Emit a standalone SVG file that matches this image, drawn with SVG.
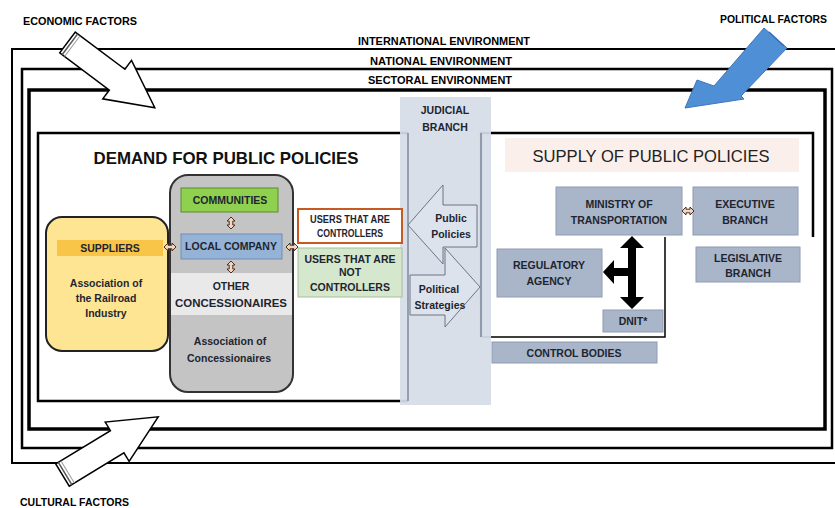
<svg xmlns="http://www.w3.org/2000/svg" width="835" height="508" viewBox="0 0 835 508">
<style>
.frame{fill:none;stroke:#000;}
.lbl{font-family:"Liberation Sans",Arial,sans-serif;font-weight:bold;fill:#000;font-size:10px;}
.bx{font-family:"Liberation Sans",Arial,sans-serif;font-weight:bold;fill:#1e2530;font-size:10.5px;text-anchor:middle;}
.gov{fill:#a9b5c9;stroke:#8f9cb2;stroke-width:1;}
.dbl{fill:#f3d6c2;stroke:#4a3020;stroke-width:1;}
</style>
<defs>
<path id="dblh" class="dbl" d="M-6,0 L-2,-4 L-2,-1.8 L2,-1.8 L2,-4 L6,0 L2,4 L2,1.8 L-2,1.8 L-2,4 Z"/>
</defs>

<!-- environment frames -->
<g id="frames">
<path class="frame" stroke-width="2" d="M840,49 H12 V463 H840"/>
<rect class="frame" stroke-width="2.5" x="22" y="69" width="810" height="379"/>
<rect class="frame" stroke-width="3.5" x="29" y="90" width="796" height="339"/>
<text class="lbl" x="358" y="45" textLength="172" lengthAdjust="spacingAndGlyphs">INTERNATIONAL ENVIRONMENT</text>
<text class="lbl" x="370" y="65" textLength="142" lengthAdjust="spacingAndGlyphs">NATIONAL ENVIRONMENT</text>
<text class="lbl" x="368" y="84" textLength="144" lengthAdjust="spacingAndGlyphs">SECTORAL ENVIRONMENT</text>
</g>

<!-- demand box -->
<g id="demand">
<path fill="#fff" stroke="#000" stroke-width="2.5" d="M408,133 H38 V401 H408"/>
<text x="226" y="164" text-anchor="middle" font-family="Liberation Sans, Arial, sans-serif" font-weight="bold" font-size="17" fill="#111" textLength="265" lengthAdjust="spacingAndGlyphs">DEMAND FOR PUBLIC POLICIES</text>
</g>

<!-- supply box -->
<g id="supply">
<rect x="481" y="133" width="332" height="104" fill="#fff"/>
<rect x="481" y="237" width="184" height="100" fill="#fff"/>
<path fill="none" stroke="#000" stroke-width="2.5" d="M481,337 V133 H813 V237"/>
<path fill="none" stroke="#000" stroke-width="1.5" d="M481,337 H665 V237"/>
<rect x="505" y="138" width="294" height="34" fill="#fbefeb"/>
<text x="651" y="162" text-anchor="middle" font-family="Liberation Sans, Arial, sans-serif" font-size="17" fill="#222" textLength="237" lengthAdjust="spacingAndGlyphs">SUPPLY OF PUBLIC POLICIES</text>
</g>

<!-- judicial branch -->
<g id="judicial">
<rect x="400" y="97" width="91" height="308" fill="#d6dde7" opacity="0.93"/>
<line x1="408" y1="133" x2="408" y2="401" stroke="#7d8a9e" stroke-width="1.5"/>
<line x1="481" y1="133" x2="481" y2="337" stroke="#7d8a9e" stroke-width="1.5"/>
<text class="bx" x="445" y="114">JUDICIAL</text>
<text class="bx" x="445" y="131">BRANCH</text>
</g>

<!-- suppliers -->
<g id="suppliers">
<rect x="46" y="217" width="122" height="134" rx="16" fill="#fee594" stroke="#222" stroke-width="2"/>
<rect x="57" y="240" width="106" height="16" fill="#f8c548"/>
<text class="bx" x="110" y="252">SUPPLIERS</text>
<text class="bx" x="106" y="287">Association of</text>
<text class="bx" x="106" y="302">the Railroad</text>
<text class="bx" x="106" y="317">Industry</text>
</g>

<!-- concessionaires -->
<g id="concessionaires">
<rect x="170" y="175" width="123" height="217" rx="18" fill="#c4c4c4" stroke="#333" stroke-width="2"/>
<rect x="171" y="273" width="121" height="42" fill="#e9e9e9"/>
<text class="bx" x="231" y="290" font-size="11.5">OTHER</text>
<text class="bx" x="231" y="307" font-size="11.5" textLength="112" lengthAdjust="spacingAndGlyphs">CONCESSIONAIRES</text>
<text class="bx" x="230" y="345">Association of</text>
<text class="bx" x="229" y="362">Concessionaires</text>
</g>
<g id="communities">
<rect x="181" y="188" width="97" height="24" fill="#8fd14f" stroke="#5c8a2e" stroke-width="1"/>
<text class="bx" x="230" y="204">COMMUNITIES</text>
</g>
<g id="local-company">
<rect x="181" y="234" width="101" height="25" fill="#95b3d7" stroke="#6f8db3" stroke-width="1"/>
<text class="bx" x="231" y="250">LOCAL COMPANY</text>
</g>

<!-- users -->
<g id="users-controllers">
<rect x="298" y="209" width="104" height="34" fill="#fff" stroke="#c55a22" stroke-width="2"/>
<text class="bx" x="350" y="223" font-size="9" fill="#111" textLength="80" lengthAdjust="spacingAndGlyphs">USERS THAT ARE</text>
<text class="bx" x="350" y="237" font-size="9" fill="#111" textLength="66" lengthAdjust="spacingAndGlyphs">CONTROLLERS</text>
</g>
<g id="users-not-controllers">
<rect x="298" y="248" width="104" height="49" fill="#d5e7cc" stroke="#a7bf9a" stroke-width="1"/>
<text class="bx" x="350" y="263" font-size="9.5">USERS THAT ARE</text>
<text class="bx" x="350" y="276" font-size="9.5">NOT</text>
<text class="bx" x="350" y="291" font-size="9.5">CONTROLLERS</text>
</g>

<!-- government bodies -->
<g id="ministry">
<rect class="gov" x="556" y="187" width="126" height="48"/>
<text class="bx" x="619" y="208">MINISTRY OF</text>
<text class="bx" x="619" y="224">TRANSPORTATION</text>
</g>
<g id="executive">
<rect class="gov" x="693" y="187" width="105" height="48"/>
<text class="bx" x="745" y="208">EXECUTIVE</text>
<text class="bx" x="745" y="224">BRANCH</text>
</g>
<g id="legislative">
<rect class="gov" x="696" y="247" width="104" height="35"/>
<text class="bx" x="748" y="262">LEGISLATIVE</text>
<text class="bx" x="748" y="277">BRANCH</text>
</g>
<g id="regulatory">
<rect class="gov" x="497" y="249" width="105" height="48"/>
<text class="bx" x="549" y="269">REGULATORY</text>
<text class="bx" x="549" y="285">AGENCY</text>
</g>
<g id="dnit">
<rect class="gov" x="603" y="310" width="60" height="22"/>
<text class="bx" x="633" y="325">DNIT*</text>
</g>
<g id="control-bodies">
<rect class="gov" x="492" y="342" width="165" height="21"/>
<text class="bx" x="574" y="357">CONTROL BODIES</text>
</g>

<!-- connectors -->
<g id="connectors">
<g id="public-policies">
<path d="M408,225 L443,185 L443,205 L477,205 L477,247 L443,247 L443,264 Z" fill="#dde3ec" stroke="#6b7585" stroke-width="1"/>
<text class="bx" x="451" y="222">Public</text>
<text class="bx" x="451" y="238">Policies</text>
</g>
<g id="political-strategies">
<path d="M410,275 L445,275 L445,248 L480,287 L445,327 L445,315 L410,315 Z" fill="#dde3ec" stroke="#6b7585" stroke-width="1"/>
<text class="bx" x="439" y="293" font-size="10">Political</text>
<text class="bx" x="440" y="309" font-size="10">Strategies</text>
</g>
<use href="#dblh" x="231" y="223" transform="rotate(90 231 223)"/>
<use href="#dblh" x="231" y="267" transform="rotate(90 231 267)"/>
<use href="#dblh" x="170" y="247"/>
<use href="#dblh" x="292" y="247"/>
<use href="#dblh" x="688" y="211"/>
<path d="M632,236 L644,248 L636,248 L636,297 L644,297 L632,309 L620,297 L628,297 L628,276 L614,276 L614,284 L603,272 L614,260 L614,268 L628,268 L628,248 L620,248 Z" fill="#000"/>
</g>

<!-- factor arrows -->
<g id="economic-factors">
<g transform="translate(67.5,42.5) rotate(36.8)">
<path d="M0,-13 L62,-13 L62,-24 L109,0 L62,24 L62,13 L0,13 Z" fill="#fff" stroke="#000" stroke-width="1.5"/>
<line x1="3" y1="-13" x2="3" y2="13" stroke="#555" stroke-width="1.5"/>
<line x1="6" y1="-13" x2="6" y2="13" stroke="#999" stroke-width="1"/>
</g>
<text class="lbl" x="23" y="25" textLength="114" lengthAdjust="spacingAndGlyphs">ECONOMIC FACTORS</text>
</g>
<g id="cultural-factors">
<g transform="translate(62.5,475) rotate(-31.3)">
<path d="M0,-13 L64,-13 L64,-23 L112,0 L64,23 L64,13 L0,13 Z" fill="#fff" stroke="#000" stroke-width="1.5"/>
<line x1="3" y1="-13" x2="3" y2="13" stroke="#555" stroke-width="1.5"/>
<line x1="6" y1="-13" x2="6" y2="13" stroke="#999" stroke-width="1"/>
</g>
<text class="lbl" x="20" y="506" textLength="109" lengthAdjust="spacingAndGlyphs">CULTURAL FACTORS</text>
</g>
<g id="political-factors">
<path d="M764,28 L787,48 L741,96 L744,99 L685,108 L697,80 L714,86 Z" fill="#4f8fd6" stroke="#3f77b8" stroke-width="1"/>
<line x1="769" y1="32" x2="784" y2="46" stroke="#3a6fae" stroke-width="1.5"/>
<text class="lbl" x="720" y="23" textLength="107" lengthAdjust="spacingAndGlyphs">POLITICAL FACTORS</text>
</g>
</svg>
